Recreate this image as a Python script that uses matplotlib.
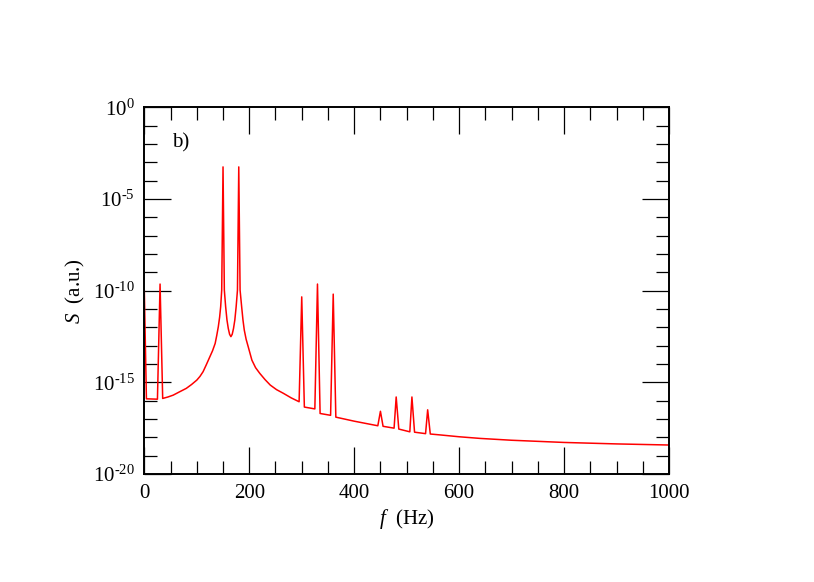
import numpy as np
import matplotlib
matplotlib.use("Agg")
import matplotlib.pyplot as plt
from matplotlib.ticker import FixedLocator, FixedFormatter, NullFormatter, MultipleLocator

plt.rcParams['font.family'] = ['Liberation Serif', 'DejaVu Serif']
plt.rcParams['mathtext.fontset'] = 'custom'
plt.rcParams['mathtext.rm'] = 'Liberation Serif'
plt.rcParams['mathtext.it'] = 'Liberation Serif:italic'

# frequency (Hz) and log10 of spectrum S (a.u.)
freq = [0, 4, 25, 30, 35, 45, 55, 65, 80, 90, 100, 106, 112, 118, 125, 130, 135,
        138, 141, 143.5, 145.5, 147.5, 150,
        152.5, 155, 157.5, 160, 162.5, 165, 167.5, 170, 172.5, 175, 177.5, 180,
        182.5, 185.5, 188, 190.5, 194, 198, 205, 212, 220, 230, 240, 252, 265, 280,
        295, 300, 305, 325, 330, 335, 355, 360, 365, 400, 445,
        450, 455, 476, 480, 485, 506, 510, 515, 536, 540, 545,
        564, 600, 640, 700, 800, 900, 1000]
log_s = [-10.0, -15.9, -15.92, -9.64, -15.88, -15.8, -15.7, -15.55, -15.33, -15.12,
         -14.88, -14.68, -14.42, -14.05, -13.6, -13.28, -12.88,
         -12.45, -11.97, -11.45, -10.88, -9.97, -3.25,
         -9.97, -10.88, -11.6, -12.06, -12.38, -12.51, -12.38, -12.06, -11.6, -10.88,
         -9.97, -3.25,
         -9.97, -10.88, -11.6, -12.15, -12.65, -13.06, -13.79, -14.2, -14.51, -14.85,
         -15.15, -15.4, -15.6, -15.85,
         -16.06, -10.34, -16.35, -16.45, -9.64, -16.7, -16.8, -10.19, -16.9, -17.12,
         -17.37,
         -16.58, -17.4, -17.5, -15.8, -17.55, -17.7, -15.8, -17.72, -17.8, -16.5,
         -17.82,
         -17.87, -17.97, -18.06, -18.16, -18.28, -18.36, -18.42]

x_ticks = [0, 200, 400, 600, 800, 1000]
x_tick_labels = ['0', '200', '400', '600', '800', '1000']
y_exponents = [-20, -15, -10, -5, 0]

S = 10.0 ** np.array(log_s)

fig = plt.figure(figsize=(8.14, 5.82), dpi=100)
ax = fig.add_axes([0.1773, 0.1856, 0.6446, 0.630])
ax.plot(freq, S, color='#ff0000', lw=1.1)

ax.set_yscale('log')
ax.set_xlim(0, 1000)
ax.set_ylim(1e-20, 1e0)

ax.xaxis.set_major_locator(FixedLocator(x_ticks))
ax.xaxis.set_major_formatter(FixedFormatter(x_tick_labels))
ax.xaxis.set_minor_locator(MultipleLocator(50))

major_y = [10.0 ** e for e in y_exponents]
minor_y = [10.0 ** e for e in range(-20, 1) if e not in y_exponents]
ax.yaxis.set_major_locator(FixedLocator(major_y))
ax.yaxis.set_major_formatter(FixedFormatter(
    ['$\\mathregular{10^{\u2010%d}}$' % (-e) if e < 0 else '$\\mathregular{10^{%d}}$' % e
     for e in y_exponents]))
ax.yaxis.set_minor_locator(FixedLocator(minor_y))
ax.yaxis.set_minor_formatter(NullFormatter())

ax.tick_params(which='both', direction='in', top=True, right=True, width=0.9,
               labelsize=15, colors='black')
ax.tick_params(which='major', length=19.5, pad=7)
ax.tick_params(which='minor', length=9.5)
for sp in ax.spines.values():
    sp.set_linewidth(1.4)

ax.set_xlabel('$f$  (Hz)', fontsize=15, labelpad=3)
ax.set_ylabel('$S$  (a.u.)', fontsize=15, labelpad=4)
ax.text(0.07, 0.903, 'b)', transform=ax.transAxes, fontsize=15, ha='center', va='center')

fig.savefig('out.png', dpi=100)
